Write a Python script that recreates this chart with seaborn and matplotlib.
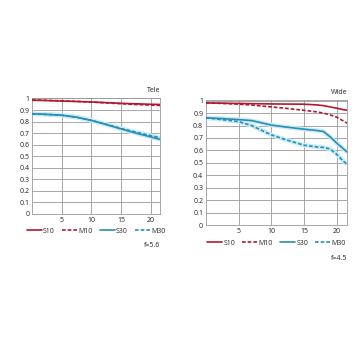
import matplotlib
matplotlib.use("Agg")
import matplotlib.pyplot as plt
import seaborn as sns
import pandas as pd

# ---- data ----
tele_x = [0, 2.5, 5, 7.5, 10, 12.5, 15, 17.5, 20, 21.6]
tele_S10 = [0.985, 0.982, 0.978, 0.974, 0.970, 0.964, 0.958, 0.954, 0.950, 0.948]
tele_M10 = [0.988, 0.984, 0.980, 0.975, 0.969, 0.962, 0.955, 0.948, 0.943, 0.940]
tele_S30 = [0.867, 0.862, 0.855, 0.838, 0.810, 0.775, 0.736, 0.700, 0.667, 0.645]
tele_M30 = [0.867, 0.862, 0.855, 0.838, 0.810, 0.776, 0.740, 0.708, 0.678, 0.660]

wide_x = [0, 2.5, 5, 7, 10, 12, 15, 17, 18, 19, 20, 21, 21.6]
wide_S10 = [0.982, 0.980, 0.978, 0.976, 0.974, 0.973, 0.972, 0.966, 0.960, 0.950, 0.940, 0.928, 0.923]
wide_M10 = [0.983, 0.978, 0.972, 0.965, 0.950, 0.940, 0.923, 0.910, 0.900, 0.886, 0.868, 0.838, 0.820]
wide_S30 = [0.862, 0.856, 0.848, 0.840, 0.804, 0.790, 0.771, 0.760, 0.752, 0.710, 0.660, 0.615, 0.587]
wide_M30 = [0.862, 0.848, 0.832, 0.800, 0.725, 0.690, 0.642, 0.628, 0.624, 0.612, 0.570, 0.515, 0.488]

series = ["S10", "M10", "S30", "M30"]
x_ticks = [5, 10, 15, 20]
y_ticks = [0, 0.1, 0.2, 0.3, 0.4, 0.5, 0.6, 0.7, 0.8, 0.9, 1]
y_labels = ["0", "0.1", "0.2", "0.3", "0.4", "0.5", "0.6", "0.7", "0.8", "0.9", "1"]

RED = "#b3182e"
TEAL = "#2a8db3"
GLOW = "#c9ecf7"
styles = {"S10": (RED, "-"), "M10": (RED, (0, (2.2, 1.2))),
          "S30": (TEAL, "-"), "M30": (TEAL, (0, (2.2, 1.2)))}

sns.set_theme(style="white")
plt.rcParams['font.family'] = ['Open Sans', 'DejaVu Sans']

fig = plt.figure(figsize=(3.6, 3.6), dpi=100)
ax1 = fig.add_axes([0.089, 0.406, 0.356, 0.322])
ax2 = fig.add_axes([0.572, 0.375, 0.392, 0.347])


def draw(ax, x, vals, title, fnum):
    df = pd.DataFrame({"x": x, **{s: v for s, v in zip(series, vals)}})
    long = df.melt(id_vars="x", var_name="series", value_name="mtf")
    # glow under teal lines
    for s in ["S30", "M30"]:
        d = long[long.series == s]
        ax.plot(d.x, d.mtf, color=GLOW, lw=3.2, solid_capstyle="butt", zorder=2)
    for s in series:
        d = long[long.series == s]
        c, ls = styles[s]
        sns.lineplot(data=d, x="x", y="mtf", ax=ax, color=c, linestyle=ls,
                     lw=1.2, label=s, zorder=3)
    ax.set_xlim(0, 21.6)
    ax.set_ylim(0, 1.005)
    ax.set_xticks(x_ticks)
    ax.set_xticklabels([str(t) for t in x_ticks])
    ax.set_yticks(y_ticks)
    ax.set_yticklabels(y_labels)
    ax.grid(True, color="#9a9a9a", lw=0.6)
    for sp in ax.spines.values():
        sp.set_color("#9a9a9a")
        sp.set_linewidth(0.6)
    ax.tick_params(labelsize=5, length=0, pad=2, colors="#222222")
    ax.set_xlabel("")
    ax.set_ylabel("")
    ax.text(1.0, 1.03, title, transform=ax.transAxes, ha="right", va="bottom",
            fontsize=5, color="#222222")
    ax.legend(loc="upper center", bbox_to_anchor=(0.5, -0.095), ncol=4,
              frameon=False, fontsize=5, handlelength=2.2, handletextpad=0.15,
              columnspacing=1.0, borderaxespad=0)
    ax.text(1.0, -0.24, fnum, transform=ax.transAxes, ha="right", va="top",
            fontsize=5, color="#222222")


draw(ax1, tele_x, [tele_S10, tele_M10, tele_S30, tele_M30], "Tele", "f=5.6")
draw(ax2, wide_x, [wide_S10, wide_M10, wide_S30, wide_M30], "Wide", "f=4.5")

fig.savefig("out.png", dpi=100, facecolor="white")
